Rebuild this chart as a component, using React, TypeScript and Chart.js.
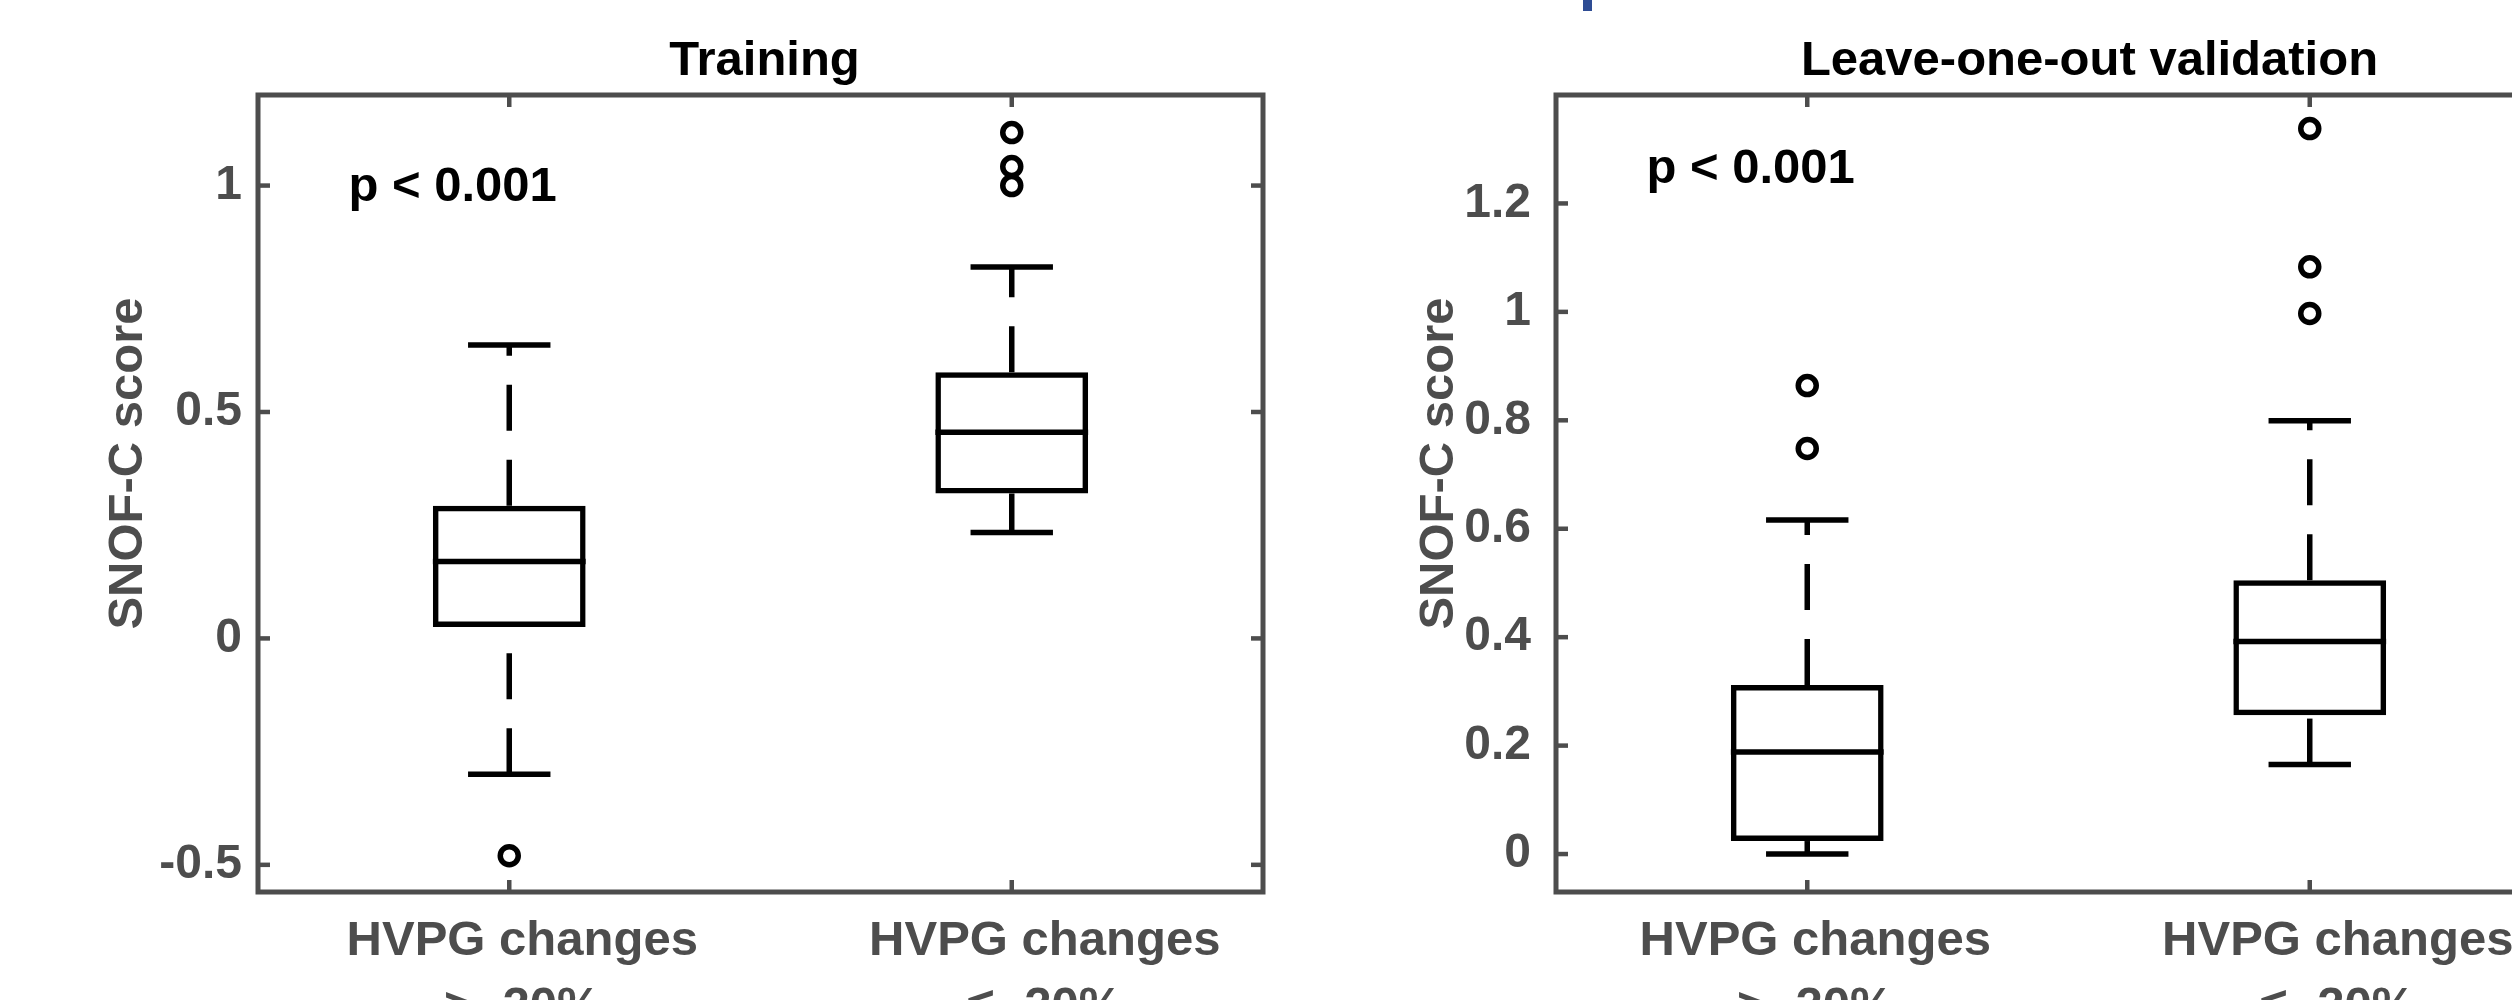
import React, { useEffect, useRef } from "react";
import { Chart, registerables } from "chart.js";

Chart.register(...registerables);

// ---------------- DATA ----------------
const positions = [1, 2];
const groupLabels = [
  ["HVPG changes", "> -20%"],
  ["HVPG changes", "\u2264 -20%"],
];
const pText = "p < 0.001";
const yAxisTitle = "SNOF-C score";

// Training
const trainTitle = "Training";
const trainQ1 = [0.025, 0.32];
const trainMedian = [0.17, 0.455];
const trainQ3 = [0.293, 0.588];
const trainLow = [-0.3, 0.234];
const trainHigh = [0.648, 0.82];
const trainOutliers = [[-0.48], [1.0, 1.042, 1.117]];
const trainTicks = [-0.5, 0, 0.5, 1];
const trainTickLabels = ["-0.5", "0", "0.5", "1"];
const trainYRange = [-0.56, 1.2];
const trainPAt = [0.68, 0.995];

// Leave-one-out validation
const looTitle = "Leave-one-out validation";
const looQ1 = [0.024, 0.256];
const looMedian = [0.188, 0.392];
const looQ3 = [0.312, 0.505];
const looLow = [0.0, 0.165];
const looHigh = [0.616, 0.799];
const looOutliers = [[0.748, 0.864], [0.997, 1.083, 1.338]];
const looTicks = [0, 0.2, 0.4, 0.6, 0.8, 1, 1.2];
const looTickLabels = ["0", "0.2", "0.4", "0.6", "0.8", "1", "1.2"];
const looYRange = [-0.07, 1.4];
const looPAt = [0.68, 1.262];

// ---------------- STYLE ----------------
const FONT = '"Liberation Sans", Arial, Helvetica, sans-serif';
const AXIS_COLOR = "#4d4d4d";
const CANVAS_W = 1300;
const CANVAS_H = 1000;
const AREA_LEFT = 258;
const AREA_TOP = 95;
const AREA_RIGHT = 1263;
const AREA_BOTTOM = 892;
const BOX_HALF = 0.152;
const CAP_HALF = 0.082;
const LINE_W = 5.5;
const TICK_LEN = 12;

Chart.defaults.font.family = FONT;

type Spec = {
  title: string;
  q1: number[];
  median: number[];
  q3: number[];
  low: number[];
  high: number[];
  outliers: number[][];
  ticks: number[];
  tickLabels: string[];
  yRange: number[];
  pAt: number[];
  tickPadding: number;
  titleNudge: number;
  yLabelGap: number;
  labelNudges: number[];
};

const decorPlugin = {
  id: "decor",
  afterDraw(chart: any, _args: any, opts: any) {
    const { ctx, chartArea: a, scales } = chart;
    const x = scales.x;
    const y = scales.y;
    ctx.save();
    // inward tick marks
    ctx.strokeStyle = AXIS_COLOR;
    ctx.lineWidth = 4.5;
    ctx.lineCap = "butt";
    const seg = (x1: number, y1: number, x2: number, y2: number) => {
      ctx.beginPath();
      ctx.moveTo(x1, y1);
      ctx.lineTo(x2, y2);
      ctx.stroke();
    };
    y.ticks.forEach((t: any) => {
      const py = y.getPixelForValue(t.value);
      seg(a.left, py, a.left + TICK_LEN, py);
      seg(a.right, py, a.right - TICK_LEN, py);
    });
    x.ticks.forEach((t: any) => {
      const px = x.getPixelForValue(t.value);
      seg(px, a.bottom, px, a.bottom - TICK_LEN);
      seg(px, a.top, px, a.top + TICK_LEN);
    });
    // frame
    ctx.lineWidth = 5;
    ctx.lineJoin = "miter";
    ctx.strokeRect(a.left, a.top, a.right - a.left, a.bottom - a.top);

    // x tick labels
    ctx.font = `bold 49px ${FONT}`;
    ctx.fillStyle = AXIS_COLOR;
    ctx.textAlign = "center";
    ctx.textBaseline = "alphabetic";
    positions.forEach((p, i) => {
      const px = x.getPixelForValue(p) + opts.labelNudges[i];
      ctx.fillText(groupLabels[i][0], px, a.bottom + 63);
      ctx.fillText(groupLabels[i][1], px, a.bottom + 129);
    });

    // y axis title
    ctx.save();
    ctx.translate(a.left - opts.yLabelGap, (a.top + a.bottom) / 2 - 30);
    ctx.rotate(-Math.PI / 2);
    ctx.fillText(yAxisTitle, 0, 0);
    ctx.restore();

    // title
    ctx.fillStyle = "#000";
    ctx.fillText(opts.title, (a.left + a.right) / 2 + opts.titleNudge, a.top - 20);

    // p-value annotation
    ctx.textAlign = "left";
    ctx.textBaseline = "middle";
    ctx.fillText(pText, x.getPixelForValue(opts.pAt[0]), y.getPixelForValue(opts.pAt[1]));
    ctx.restore();
  },
};

function buildConfig(s: Spec): any {
  const datasets: any[] = [];
  // boxes (Q1..Q3)
  datasets.push({
    type: "bar",
    data: positions.map((p, i) => ({ x: p, y: [s.q1[i], s.q3[i]] })),
    backgroundColor: "rgba(0,0,0,0)",
    borderColor: "#000",
    borderWidth: LINE_W,
    borderSkipped: false,
    barPercentage: BOX_HALF * 2,
    categoryPercentage: 1,
  });
  const lineDs = (pts: any[], dashed: boolean) => ({
    type: "line",
    data: pts,
    borderColor: "#000",
    borderWidth: LINE_W,
    borderDash: dashed ? [46, 29] : [],
    borderCapStyle: "butt",
    pointRadius: 0,
    fill: false,
    tension: 0,
  });
  positions.forEach((p, i) => {
    // medians
    datasets.push(lineDs([{ x: p - BOX_HALF, y: s.median[i] }, { x: p + BOX_HALF, y: s.median[i] }], false));
    // whiskers (drawn from lower to upper end)
    datasets.push(lineDs([{ x: p, y: s.q3[i] }, { x: p, y: s.high[i] }], true));
    datasets.push(lineDs([{ x: p, y: s.low[i] }, { x: p, y: s.q1[i] }], true));
    // caps
    datasets.push(lineDs([{ x: p - CAP_HALF, y: s.high[i] }, { x: p + CAP_HALF, y: s.high[i] }], false));
    datasets.push(lineDs([{ x: p - CAP_HALF, y: s.low[i] }, { x: p + CAP_HALF, y: s.low[i] }], false));
  });
  // outliers
  const outPts: any[] = [];
  positions.forEach((p, i) => s.outliers[i].forEach((v) => outPts.push({ x: p, y: v })));
  datasets.push({
    type: "scatter",
    data: outPts,
    pointStyle: "circle",
    pointRadius: 9,
    pointBorderWidth: 5.5,
    pointBackgroundColor: "#fff",
    pointBorderColor: "#000",
    showLine: false,
  });

  return {
    type: "bar",
    data: { datasets },
    options: {
      animation: false,
      responsive: false,
      events: [],
      layout: {
        padding: { left: 0, top: AREA_TOP, right: CANVAS_W - AREA_RIGHT, bottom: 0 },
      },
      plugins: {
        legend: { display: false },
        tooltip: { enabled: false },
        title: { display: false },
        decor: {
          title: s.title,
          titleNudge: s.titleNudge,
          yLabelGap: s.yLabelGap,
          labelNudges: s.labelNudges,
          pAt: s.pAt,
        },
      },
      scales: {
        x: {
          type: "linear",
          min: 0.5,
          max: 2.5,
          offset: false,
          grid: { display: false, drawTicks: false, offset: false },
          border: { display: false },
          ticks: { display: false },
          afterBuildTicks: (sc: any) => {
            sc.ticks = positions.map((v) => ({ value: v }));
          },
          afterFit: (sc: any) => {
            sc.height = CANVAS_H - AREA_BOTTOM;
          },
        },
        y: {
          type: "linear",
          min: s.yRange[0],
          max: s.yRange[1],
          grid: { display: false, drawTicks: false },
          border: { display: false },
          ticks: {
            color: AXIS_COLOR,
            font: { size: 48, weight: "bold", family: FONT },
            padding: s.tickPadding,
            callback: (_v: any, i: number) => s.tickLabels[i],
          },
          afterBuildTicks: (sc: any) => {
            sc.ticks = s.ticks.map((v) => ({ value: v }));
          },
          afterFit: (sc: any) => {
            sc.width = AREA_LEFT;
          },
        },
      },
    },
    plugins: [decorPlugin],
  };
}

const trainSpec: Spec = {
  title: trainTitle,
  q1: trainQ1,
  median: trainMedian,
  q3: trainQ3,
  low: trainLow,
  high: trainHigh,
  outliers: trainOutliers,
  ticks: trainTicks,
  tickLabels: trainTickLabels,
  yRange: trainYRange,
  pAt: trainPAt,
  tickPadding: 16,
  titleNudge: 4,
  yLabelGap: 116,
  labelNudges: [13, 33],
};

const looSpec: Spec = {
  title: looTitle,
  q1: looQ1,
  median: looMedian,
  q3: looQ3,
  low: looLow,
  high: looHigh,
  outliers: looOutliers,
  ticks: looTicks,
  tickLabels: looTickLabels,
  yRange: looYRange,
  pAt: looPAt,
  tickPadding: 25,
  titleNudge: 31,
  yLabelGap: 103,
  labelNudges: [8, 28],
};

function BoxChart({ spec, left }: { spec: Spec; left: number }) {
  const ref = useRef<HTMLCanvasElement>(null);
  useEffect(() => {
    const chart = new Chart(ref.current as HTMLCanvasElement, buildConfig(spec));
    return () => chart.destroy();
  }, [spec]);
  return (
    <div style={{ position: "absolute", left, top: 0, width: CANVAS_W, height: CANVAS_H }}>
      <canvas ref={ref} width={CANVAS_W} height={CANVAS_H} style={{ display: "block" }} />
    </div>
  );
}

export default function App() {
  return (
    <div
      style={{
        position: "fixed",
        left: 0,
        top: 0,
        width: 2512,
        height: 1000,
        overflow: "hidden",
        background: "#fff",
      }}
    >
      <BoxChart spec={trainSpec} left={0} />
      <BoxChart spec={looSpec} left={1298} />
      <div
        style={{
          position: "absolute",
          left: 1583,
          top: 0,
          width: 9,
          height: 11,
          background: "#2e4c94",
        }}
      />
    </div>
  );
}
